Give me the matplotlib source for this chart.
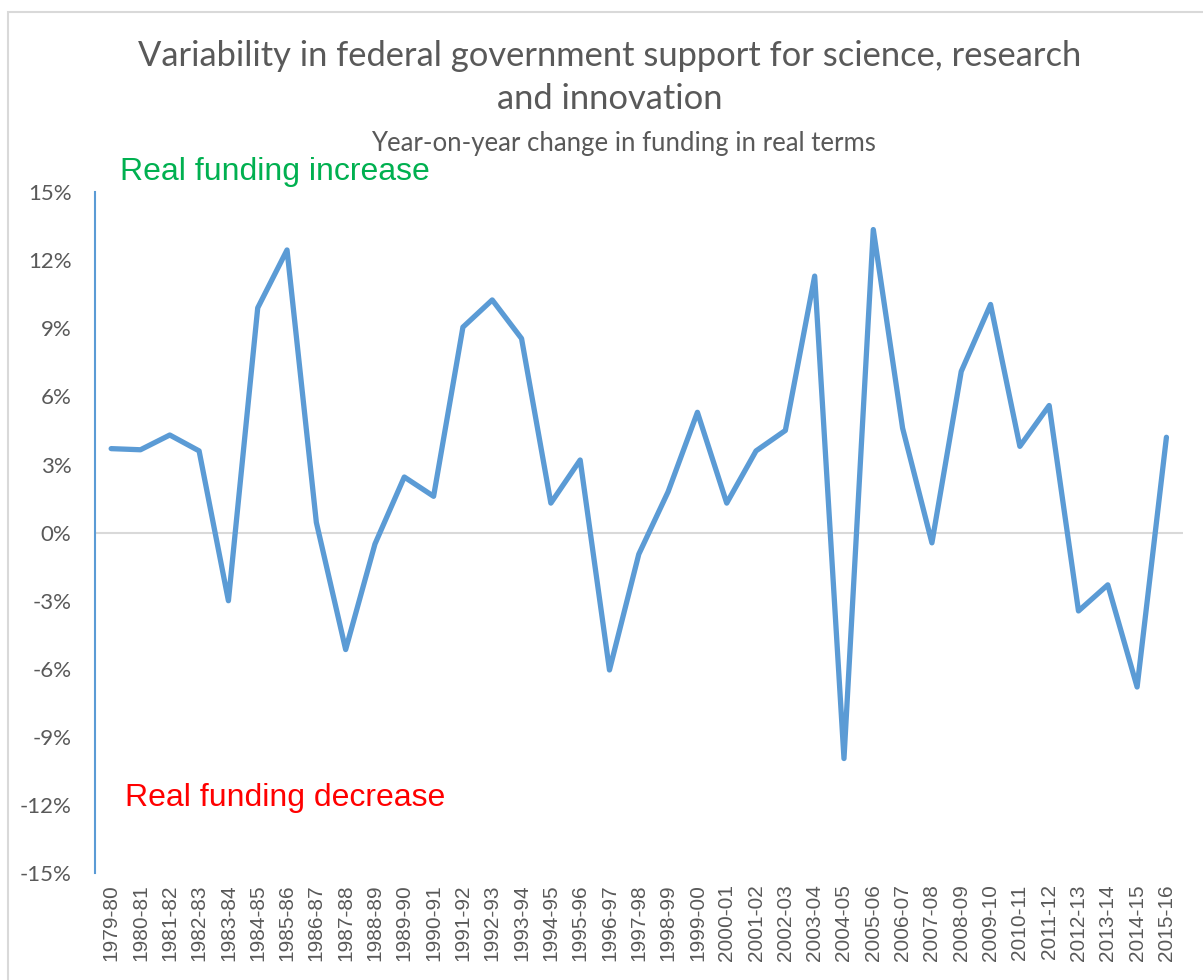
import matplotlib
matplotlib.use('Agg')
import matplotlib.pyplot as plt
from matplotlib.patches import Rectangle

years = ['1979-80', '1980-81', '1981-82', '1982-83', '1983-84', '1984-85', '1985-86',
         '1986-87', '1987-88', '1988-89', '1989-90', '1990-91', '1991-92', '1992-93',
         '1993-94', '1994-95', '1995-96', '1996-97', '1997-98', '1998-99', '1999-00',
         '2000-01', '2001-02', '2002-03', '2003-04', '2004-05', '2005-06', '2006-07',
         '2007-08', '2008-09', '2009-10', '2010-11', '2011-12', '2012-13', '2013-14',
         '2014-15', '2015-16']
change = [3.7, 3.65, 4.3, 3.6, -3.0, 9.9, 12.45, 0.45, -5.15, -0.5, 2.45, 1.6, 9.05, 10.25,
          8.55, 1.3, 3.2, -6.05, -0.95, 1.8, 5.3, 1.3, 3.6, 4.5, 11.3, -9.95, 13.35, 4.6,
          -0.45, 7.1, 10.05, 3.8, 5.6, -3.45, -2.3, -6.8, 4.2]
yticks = list(range(-15, 16, 3))

fig = plt.figure(figsize=(12.03, 9.8), dpi=100)
ax = fig.add_axes([0.079, 0.109, 0.904, 0.695])

# light border round the whole chart
fig.patches.append(Rectangle((0.007, -0.01), 1.1, 0.998, transform=fig.transFigure,
                             fill=False, edgecolor='#D9D9D9', lw=1.5))

x = list(range(len(years)))
ax.axhline(0, color='#D9D9D9', lw=1.5, zorder=1)
ax.plot(x, change, color='#5B9BD5', lw=3.8, solid_joinstyle='round',
        solid_capstyle='round', zorder=3)

ax.set_xlim(-0.55, len(years) - 0.45)
ax.set_ylim(-15, 15)
ax.set_yticks(yticks)
ax.set_yticklabels([f'{v}%' for v in yticks], fontsize=16, color='#595959', family='Lato')
ax.set_xticks(x)
ax.set_xticklabels(years, rotation=90, fontsize=15, color='#595959', family='Liberation Sans')
ax.tick_params(length=0, pad=8)
ax.tick_params(axis='y', pad=17)

for s in ['top', 'right', 'bottom']:
    ax.spines[s].set_visible(False)
ax.spines['left'].set_color('#5B9BD5')
ax.spines['left'].set_linewidth(1.5)

fig.text(0.507, 0.921, 'Variability in federal government support for science, research\nand innovation',
         ha='center', va='center', fontsize=24.8, color='#595959', family='Lato', linespacing=1.4)
fig.text(0.518, 0.854, 'Year-on-year change in funding in real terms',
         ha='center', va='center', fontsize=18.5, color='#595959', family='Lato')
fig.text(0.100, 0.824, 'Real funding increase', ha='left', va='center',
         fontsize=23, color='#00B050', family='Liberation Sans')
fig.text(0.104, 0.186, 'Real funding decrease', ha='left', va='center',
         fontsize=23, color='#FF0000', family='Liberation Sans')

fig.savefig('out.png', dpi=100)
